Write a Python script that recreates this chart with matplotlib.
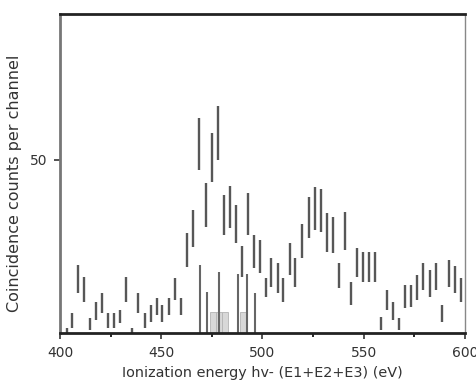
import numpy as np
import matplotlib
matplotlib.use('Agg')
import matplotlib.pyplot as plt
from matplotlib.ticker import MultipleLocator

# triple-coincidence spectrum, counts with error bars
energy = [403.3, 406.0, 408.7, 412.0, 415.0, 418.0, 420.9, 423.9, 426.8, 429.8,
          432.7, 435.7, 438.7, 442.0, 444.9, 447.9, 450.5, 453.8, 456.8, 459.8,
          462.7, 465.7, 468.6, 471.9, 474.9, 477.9, 480.8, 483.8, 486.8, 489.7,
          492.7, 496.0, 498.6, 501.8, 504.4, 507.5, 510.3, 513.6, 516.2, 519.5,
          522.8, 525.8, 528.7, 531.7, 534.7, 537.6, 540.9, 543.9, 546.8, 549.8,
          552.7, 555.7, 558.7, 561.6, 564.6, 567.6, 570.5, 573.5, 576.4, 579.4,
          582.7, 585.7, 588.6, 591.9, 594.9, 597.9]
counts = [0.7, 3.6, 15.6, 12.6, 2.6, 6.4, 8.7, 3.6, 3.6, 4.8,
          12.6, 0.7, 8.7, 3.6, 5.7, 7.7, 5.7, 7.7, 12.7, 7.7,
          24.0, 30.2, 54.5, 37.0, 50.7, 57.7, 34.1, 36.3, 31.5, 20.6,
          34.4, 23.6, 22.1, 13.2, 17.5, 15.9, 12.5, 21.4, 17.5, 26.5,
          33.4, 36.0, 35.3, 29.0, 28.3, 16.6, 29.4, 11.4, 20.4, 19.0,
          19.0, 19.0, 2.8, 9.5, 6.4, 2.6, 10.5, 10.7, 13.1, 16.3,
          14.3, 16.3, 5.7, 17.2, 15.4, 12.5]
errors = [0.7, 2.2, 4.0, 3.6, 1.7, 2.6, 2.9, 2.2, 2.2, 1.9,
          3.6, 0.7, 2.9, 2.2, 2.5, 2.5, 2.5, 2.5, 3.2, 2.5,
          4.9, 5.3, 7.5, 6.4, 7.1, 7.7, 5.8, 6.0, 5.5, 4.4,
          6.1, 4.8, 4.8, 2.8, 4.2, 4.3, 3.5, 4.6, 4.2, 4.8,
          5.9, 6.2, 6.1, 5.7, 5.2, 3.6, 5.4, 3.3, 4.2, 4.3,
          4.3, 4.3, 1.9, 2.9, 2.6, 1.7, 3.3, 3.2, 3.6, 3.9,
          3.9, 3.9, 2.5, 3.9, 3.8, 3.5]

# lines drawn up from zero around the main peak
drop_energy = [469.2, 472.6, 478.7, 487.9, 492.3, 496.4]
drop_height = [19.7, 11.9, 17.7, 17.0, 17.0, 11.6]
block_energy = [475.5, 478.5, 481.5, 490.5]
block_height = [6.0, 6.0, 6.0, 6.0]

fig = plt.figure(figsize=(4.77, 3.83), dpi=100)
ax = fig.add_axes([0.1258, 0.1305, 0.849, 0.833])

lo = np.array(counts) - np.array(errors)
hi = np.array(counts) + np.array(errors)
ax.vlines(energy, lo, hi, color='#575757', lw=1.7)

ax.bar(block_energy, block_height, width=2.9, color='#d8d8d8',
       edgecolor='#b4b4b4', lw=0.6)
ax.vlines(drop_energy, 0, drop_height, color='#666666', lw=1.5)

ax.set_xlim(400, 600)
ax.set_ylim(0, 92)
ax.set_xticks([400, 450, 500, 550, 600])
ax.xaxis.set_minor_locator(MultipleLocator(25))
ax.set_yticks([50])

ax.tick_params(axis='both', direction='out', labelsize=10, colors='#333333',
               length=4, width=1.2, pad=5)
ax.tick_params(axis='x', which='minor', direction='out', length=3, width=1.2)

for s in ['top', 'bottom']:
    ax.spines[s].set_linewidth(2)
    ax.spines[s].set_color('#222222')
ax.spines['left'].set_linewidth(2)
ax.spines['left'].set_color('#777777')
ax.spines['right'].set_linewidth(1)
ax.spines['right'].set_color('#888888')

ax.set_xlabel('Ionization energy hv- (E1+E2+E3) (eV)', fontsize=10.4,
              color='#333333', labelpad=5)
ax.set_ylabel('Coincidence counts per channel', fontsize=11.5,
              color='#333333')
ax.yaxis.set_label_coords(-0.095, 0.47)

fig.savefig('out.png', dpi=100)
